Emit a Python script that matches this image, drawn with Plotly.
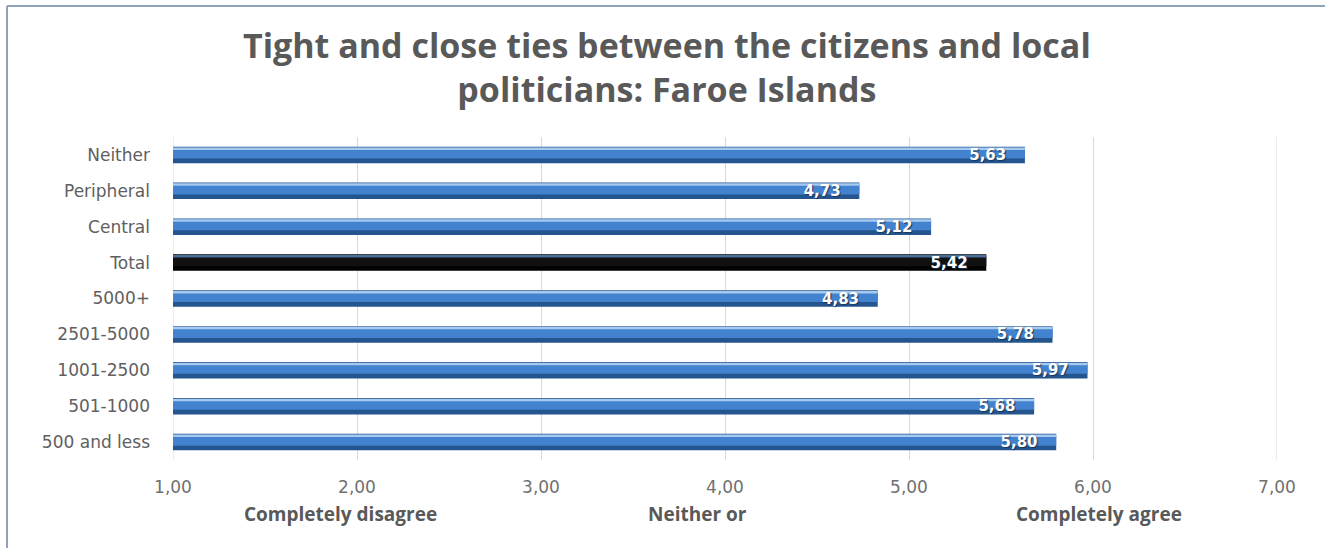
import plotly.graph_objects as go

# Survey categories (top to bottom) and mean agreement scores (1-7 scale)
categories = ["Neither", "Peripheral", "Central", "Total", "5000+",
              "2501-5000", "1001-2500", "501-1000", "500 and less"]
scores = [5.63, 4.73, 5.12, 5.42, 4.83, 5.78, 5.97, 5.68, 5.80]
tick_values = [1, 2, 3, 4, 5, 6, 7]
scale_labels = ["Completely disagree", "Neither or", "Completely agree"]
scale_label_pos = [1.91, 3.85, 6.03]

title_text = ("Tight and close ties between the citizens and local<br>"
              "politicians: Faroe Islands")

# Shading layers give the bars a bevelled look: dark base, mid body, light top edge
base_cols = ["#000000" if c == "Total" else "#24558f" for c in categories]
mid_cols = ["#111111" if c == "Total" else "#4282cf" for c in categories]
hi_cols = ["#4a6f9c" if c == "Total" else "#a6c9f0" for c in categories]

fig = go.Figure()
fig.add_trace(go.Bar(x=scores, y=categories, orientation="h",
                     width=0.46, offset=-0.23,
                     marker=dict(color=base_cols, line=dict(width=0)),
                     hoverinfo="skip"))
fig.add_trace(go.Bar(x=scores, y=categories, orientation="h",
                     width=0.30, offset=-0.20,
                     marker=dict(color=mid_cols, line=dict(width=0)),
                     hoverinfo="skip"))
fig.add_trace(go.Bar(x=scores, y=categories, orientation="h",
                     width=0.07, offset=-0.21,
                     marker=dict(color=hi_cols, line=dict(width=0)),
                     hoverinfo="skip"))
# Transparent top layer carrying the value labels
fig.add_trace(go.Bar(x=scores, y=categories, orientation="h",
                     width=0.46, offset=-0.23,
                     marker=dict(color="rgba(0,0,0,0)", line=dict(width=0)),
                     texttemplate="%{x:.2f}\u00a0\u00a0\u00a0",
                     textposition="inside",
                     insidetextanchor="end", constraintext="none",
                     textfont=dict(family="DejaVu Sans", size=15, color="white",
                                   weight="bold",
                                   shadow="1px 1px 1px #1b3558"),
                     hovertemplate="%{y}: %{x:.2f}<extra></extra>"))

annotations = [
    dict(x=p, y=-0.12, xref="x", yref="paper", text=t, showarrow=False,
         xanchor="center", yanchor="top",
         font=dict(family="Open Sans", size=19, color="#595959", weight="bold"))
    for p, t in zip(scale_label_pos, scale_labels)
]
# Two-line chart title, centred on the page
annotations.append(
    dict(x=(667 - 173) / 1104, y=(460 - 67) / 323, xref="paper", yref="paper",
         text=title_text, showarrow=False, xanchor="center", yanchor="middle",
         font=dict(family="Open Sans", size=34, color="#595959", weight="bold"))
)

# Thin frame along the top and left edges of the chart area
x_left = (7 - 173) / 1104
y_top = (460 - 6) / 323
frame_col = "#8fa3ba"
shapes = [
    dict(type="line", xref="paper", yref="paper", x0=x_left, x1=1.05,
         y0=y_top, y1=y_top, line=dict(color=frame_col, width=2)),
    dict(type="line", xref="paper", yref="paper", x0=x_left, x1=x_left,
         y0=y_top, y1=-0.3, line=dict(color=frame_col, width=2)),
]
# Grid lines at the two ends of the axis range
for v in (tick_values[0], tick_values[-1]):
    shapes.append(dict(type="line", xref="x", yref="paper", x0=v, x1=v,
                       y0=0, y1=1, layer="below",
                       line=dict(color="#d9d9d9", width=1)))

fig.update_layout(
    width=1325, height=548,
    margin=dict(l=173, r=48, t=137, b=88),
    paper_bgcolor="white", plot_bgcolor="white",
    separators=",.",
    barmode="overlay",
    showlegend=False,
    xaxis=dict(range=[tick_values[0], tick_values[-1]], tickvals=tick_values,
               tickformat=".2f",
               showgrid=True, gridcolor="#d9d9d9", gridwidth=1,
               zeroline=False, showline=False, ticks="",
               ticklabelstandoff=15,
               tickfont=dict(family="DejaVu Sans", size=17, color="#707070"),
               fixedrange=True),
    yaxis=dict(categoryorder="array", categoryarray=categories,
               autorange="reversed", showgrid=False, zeroline=False,
               showline=False, ticks="", ticklabelstandoff=22,
               tickfont=dict(family="DejaVu Sans", size=17, color="#606060"),
               fixedrange=True),
    annotations=annotations,
    shapes=shapes,
)

fig.write_html("out.html")
